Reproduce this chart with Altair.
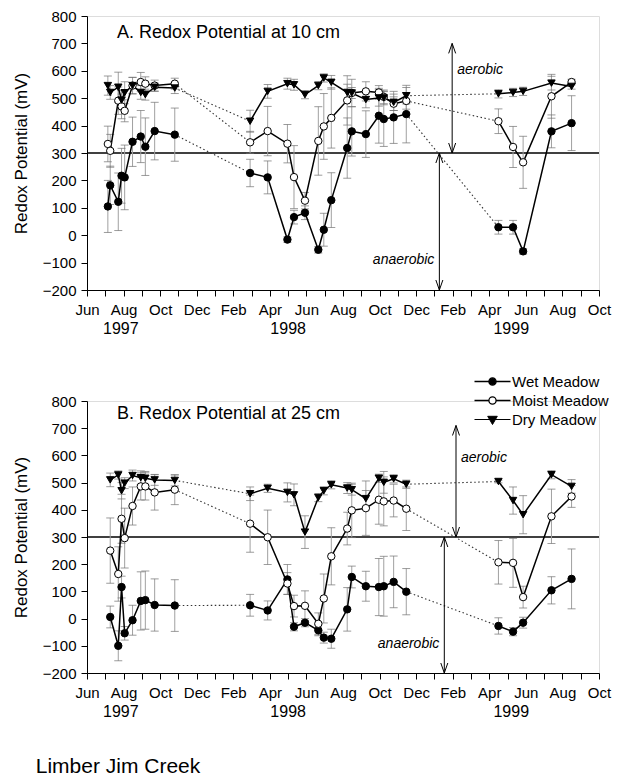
import altair as alt
import pandas as pd

FONT = "Liberation Sans"
SERIES = ["Wet Meadow", "Moist Meadow", "Dry Meadow"]
MONTH_NAMES = ["Jan", "Feb", "Mar", "Apr", "May", "Jun",
               "Jul", "Aug", "Sep", "Oct", "Nov", "Dec"]
X_TICKS = list(range(0, 29))          # months after 1 June 1997
Y_TICKS = list(range(-200, 801, 100))

YEARS = ["1997", "1998", "1999"]
YEAR_POS = [1.85, 11.0, 23.2]

# sampling dates (months after 1 June 1997)
DATES_97 = [1.14, 1.27, 1.71, 1.89, 2.06, 2.49, 2.94, 3.19, 3.70, 4.80]
DATES_97_B = [1.27, 1.71, 1.89, 2.06, 2.49, 2.94, 3.19, 3.70, 4.80]
DATES_98 = [8.92, 9.88, 10.96, 11.32, 11.92, 12.65, 12.95, 13.36,
            14.23, 14.48, 15.25, 15.96, 16.23, 16.77, 17.46]
DATES_99 = [22.5, 23.3, 23.85, 25.4, 26.5]

# ---- Panel A: 10 cm ----
A_WET_97 = [105, 182, 122, 217, 211, 341, 360, 323, 380, 367]
A_WET_97_ERR = [95, 70, 105, 100, 118, 90, 95, 105, 105, 97]
A_MOIST_97 = [333, 308, 491, 470, 454, 546, 559, 553, 546, 553]
A_MOIST_97_ERR = [65, 60, 50, 45, 40, 30, 35, 25, 20, 20]
A_DRY_97 = [546, 521, 540, 493, 520, 546, 521, 513, 540, 537]
A_DRY_97_ERR = [35, 25, 55, 35, 40, 30, 25, 20, 15, 20]

A_WET_98 = [227, 211, -16, 66, 82, -53, 20, 128, 318, 379, 369, 436, 424, 430, 442]
A_WET_98_ERR = [50, 60, 10, 25, 25, 12, 60, 100, 110, 90, 85, 100, 100, 95, 105]
A_MOIST_98 = [339, 380, 334, 212, 126, 344, 397, 428, 492, 519, 525, 521, 505, 480, 490]
A_MOIST_98_ERR = [40, 90, 70, 115, 30, 125, 120, 110, 90, 50, 35, 25, 25, 25, 30]
A_DRY_98 = [416, 525, 553, 549, 513, 546, 574, 558, 521, 519, 495, 501, 501, 485, 509]
A_DRY_98_ERR = [40, 25, 20, 20, 15, 15, 15, 25, 30, 20, 30, 30, 25, 30, 30]

A_WET_99 = [29, 29, -59, 379, 409]
A_WET_99_ERR = [25, 25, 10, 60, 100]
A_MOIST_99 = [416, 322, 266, 507, 559]
A_MOIST_99_ERR = [45, 75, 95, 80, 10]
A_DRY_99 = [516, 521, 525, 555, 543]
A_DRY_99_ERR = [15, 15, 15, 25, 10]

# ---- Panel B: 25 cm ----
B_WET_97 = [6, -100, 116, -54, -6, 65, 68, 50, 48]
B_WET_97_ERR = [40, 55, 40, 25, 55, 107, 107, 96, 95]
B_MOIST_97 = [250, 164, 367, 296, 414, 486, 486, 464, 474]
B_MOIST_97_ERR = [120, 100, 90, 110, 70, 50, 50, 65, 55]
B_DRY_97 = [510, 528, 470, 498, 526, 518, 516, 510, 508]
B_DRY_97_ERR = [25, 15, 30, 20, 20, 25, 25, 20, 20]

B_WET_98 = [49, 30, 144, -30, -15, -43, -70, -74, 34, 153, 119, 116, 119, 135, 99]
B_WET_98_ERR = [40, 35, 55, 15, 15, 20, 20, 35, 80, 40, 55, 105, 110, 95, 85]
B_MOIST_98 = [349, 299, 129, 46, 47, -19, 74, 229, 331, 398, 406, 437, 431, 434, 404]
B_MOIST_98_ERR = [105, 100, 40, 40, 55, 40, 90, 105, 60, 100, 100, 90, 90, 60, 80]
B_DRY_98 = [459, 479, 464, 455, 318, 445, 470, 492, 480, 474, 441, 516, 501, 514, 494]
B_DRY_98_ERR = [25, 15, 35, 40, 60, 15, 15, 15, 20, 20, 30, 15, 40, 15, 15]

B_WET_99 = [-27, -48, -15, 104, 146]
B_WET_99_ERR = [30, 15, 20, 50, 110]
B_MOIST_99 = [207, 205, 79, 376, 449]
B_MOIST_99_ERR = [80, 90, 40, 100, 40]
B_DRY_99 = [504, 434, 382, 529, 486]
B_DRY_99_ERR = [5, 50, 70, 15, 25]

# arrows (month position, top, bottom) and zone labels
A_ARROW_X = [19.97, 19.27]
B_ARROW_X = [20.18, 19.54]
A_ARROW_TOP = [700, 300]
B_ARROW_TOP = [710, 300]
ARROW_BOTTOM = [300, -200]
A_LABEL_Y = [603, -90]
B_LABEL_Y = [590, -95]
ZONE_LABELS = ["aerobic", "anaerobic"]

PANEL_TITLES = ["A. Redox Potential at 10 cm", "B. Redox Potential at 25 cm"]
PANEL_TITLE_X = [1.64, 1.64]
PANEL_TITLE_Y = [720, 735]
FIG_TITLE = "Limber Jim Creek"

W = 512
H_A = 274
H_B = 272

# custom symbol paths (drawn at size 4 -> 1 unit = 1 px)
UP_HEAD = "M -3.5,10 L 0,0 L 3.5,10"
DOWN_HEAD = "M -3.5,-10 L 0,0 L 3.5,-10"
LEG_CIRCLE = ("M -18,0 L -3.6,0 M 3.6,0 L 18,0 "
              "M -3.6,0 A 3.6,3.6 0 1,0 3.6,0 A 3.6,3.6 0 1,0 -3.6,0 Z")
LEG_TRI = "M -18,0 L 18,0 M -4.8,-3.2 L 4.8,-3.2 L 0,5 Z"
LEGEND_X = 398
LEGEND_Y = [-27, -8, 11]


def build_rows(dates, series_data):
    rows = []
    for name, (vals, errs) in zip(SERIES, series_data):
        for season in range(3):
            for d, v, e in zip(dates[season], vals[season], errs[season]):
                rows.append(dict(series=name, season=season, key=f"{name}-{season}",
                                 m=d, v=v, lo=v - e, hi=v + e))
    return pd.DataFrame(rows)


def build_connectors(df):
    out = []
    for name in SERIES:
        s = df[df.series == name]
        for k in range(2):
            a = s[s.season == k].iloc[-1]
            b = s[s.season == k + 1].iloc[0]
            for r in (a, b):
                out.append(dict(series=name, seg=f"{name}-{k}", m=r.m, v=r.v))
    return pd.DataFrame(out)


df_a = build_rows(
    [DATES_97, DATES_98, DATES_99],
    [((A_WET_97, A_WET_98, A_WET_99), (A_WET_97_ERR, A_WET_98_ERR, A_WET_99_ERR)),
     ((A_MOIST_97, A_MOIST_98, A_MOIST_99), (A_MOIST_97_ERR, A_MOIST_98_ERR, A_MOIST_99_ERR)),
     ((A_DRY_97, A_DRY_98, A_DRY_99), (A_DRY_97_ERR, A_DRY_98_ERR, A_DRY_99_ERR))])
df_b = build_rows(
    [DATES_97_B, DATES_98, DATES_99],
    [((B_WET_97, B_WET_98, B_WET_99), (B_WET_97_ERR, B_WET_98_ERR, B_WET_99_ERR)),
     ((B_MOIST_97, B_MOIST_98, B_MOIST_99), (B_MOIST_97_ERR, B_MOIST_98_ERR, B_MOIST_99_ERR)),
     ((B_DRY_97, B_DRY_98, B_DRY_99), (B_DRY_97_ERR, B_DRY_98_ERR, B_DRY_99_ERR))])

month_arr = "[" + ",".join(f"'{m}'" for m in MONTH_NAMES) + "]"
x_axis = alt.Axis(values=X_TICKS, title=None, grid=False, tickSize=6,
                  labelExpr=f"datum.value % 2 == 0 ? {month_arr}[(datum.value + 5) % 12] : ''",
                  labelFontSize=15, labelPadding=6, labelFlush=False, labelOverlap=False,
                  labelColor="black", tickColor="black", domainColor="black",
                  labelFont=FONT)
y_axis = alt.Axis(values=Y_TICKS, title="Redox Potential (mV)", grid=False, tickSize=6,
                  labelFontSize=15, labelPadding=5, labelColor="black",
                  tickColor="black", domainColor="black", labelFont=FONT,
                  titleFont=FONT, titleFontSize=17, titleFontWeight="normal",
                  titleColor="black", titlePadding=12)
x_scale = alt.Scale(domain=[0, 28], nice=False, zero=False)
y_scale = alt.Scale(domain=[-200, 800], nice=False, zero=False)


def X(field="m"):
    return alt.X(f"{field}:Q", scale=x_scale, axis=x_axis)


def Y(field="v"):
    return alt.Y(f"{field}:Q", scale=y_scale, axis=y_axis)


def one_entry_legend(name, symbol, row, fill_color):
    return alt.Legend(title=None, orient="none", legendX=LEGEND_X, legendY=LEGEND_Y[row],
                      values=[name], symbolType=symbol, symbolSize=4,
                      symbolFillColor=fill_color, symbolStrokeColor="black",
                      symbolStrokeWidth=1.3, symbolOpacity=1,
                      labelFontSize=15, labelFont=FONT, labelColor="black",
                      labelOffset=12)


def panel(df, idx, height, arrow_x, arrow_top, label_y, with_legend):
    conn = build_connectors(df)
    hline = alt.Chart(pd.DataFrame({"v": [300]})).mark_rule(
        color="black", strokeWidth=1.3).encode(y=Y())
    err = alt.Chart(df).mark_rule(color="#a0a0a0", strokeWidth=1).encode(
        x=X(), y=Y("lo"), y2="hi:Q")
    cap_lo = alt.Chart(df).mark_tick(orient="horizontal", color="#707070", size=8,
                                     thickness=1).encode(x=X(), y=Y("lo"))
    cap_hi = alt.Chart(df).mark_tick(orient="horizontal", color="#707070", size=8,
                                     thickness=1).encode(x=X(), y=Y("hi"))
    dotted = alt.Chart(conn).mark_line(color="#333333", strokeWidth=1.1,
                                       strokeDash=[1.5, 2.5]).encode(
        x=X(), y=Y(), detail="seg:N")

    line_enc = dict(x=X(), y=Y(), detail="key:N", order="m:Q")
    if with_legend:
        # constant opacity; carries the "Moist Meadow" legend entry
        line_enc["opacity"] = alt.Opacity("series:N", scale=alt.Scale(
            domain=[SERIES[1], SERIES[0], SERIES[2]], range=[1, 1, 1]),
            legend=one_entry_legend(SERIES[1], LEG_CIRCLE, 1, "white"))
    lines = alt.Chart(df).mark_line(color="black", strokeWidth=1.5).encode(**line_enc)

    enc = dict(
        x=X(), y=Y(),
        shape=alt.Shape("series:N", scale=alt.Scale(domain=SERIES,
                        range=["circle", "circle", "triangle-down"]), legend=None),
        size=alt.Size("series:N", scale=alt.Scale(domain=SERIES,
                      range=[55, 55, 75]), legend=None),
        fill=alt.Fill("series:N", scale=alt.Scale(domain=SERIES,
                      range=["black", "white", "black"]), legend=None),
    )
    if with_legend:
        # constant-valued channels, each carrying one entry of the legend
        enc["opacity"] = alt.Opacity("series:N", scale=alt.Scale(
            domain=[SERIES[1], SERIES[2], SERIES[0]], range=[1, 1, 1]),
            legend=one_entry_legend(SERIES[0], LEG_CIRCLE, 0, "black"))
        enc["strokeWidth"] = alt.StrokeWidth("series:N", scale=alt.Scale(
            domain=[SERIES[2], SERIES[0], SERIES[1]], range=[1, 1, 1]),
            legend=one_entry_legend(SERIES[2], LEG_TRI, 2, "black"))
    pts = alt.Chart(df).mark_point(filled=True, stroke="black", color="black",
                                   strokeWidth=1, opacity=1).encode(**enc)

    arrows = pd.DataFrame({"m": arrow_x, "top": arrow_top, "bottom": ARROW_BOTTOM,
                           "label": ZONE_LABELS, "ly": label_y})
    shafts = alt.Chart(arrows).mark_rule(color="black", strokeWidth=1).encode(
        x=X(), y=Y("top"), y2="bottom:Q")
    heads_up = alt.Chart(arrows).mark_point(shape=UP_HEAD, size=4, filled=False,
                                            color="black", strokeWidth=1,
                                            opacity=1).encode(x=X(), y=Y("top"))
    heads_dn = alt.Chart(arrows).mark_point(shape=DOWN_HEAD, size=4, filled=False,
                                            color="black", strokeWidth=1,
                                            opacity=1).encode(x=X(), y=Y("bottom"))
    lab_aer = alt.Chart(arrows.iloc[[0]]).mark_text(
        align="left", dx=5, fontStyle="italic", fontSize=14, font=FONT,
        color="black").encode(x=X(), y=Y("ly"), text="label:N")
    lab_ana = alt.Chart(arrows.iloc[[1]]).mark_text(
        align="right", dx=-5, fontStyle="italic", fontSize=14, font=FONT,
        color="black").encode(x=X(), y=Y("ly"), text="label:N")

    ttl = pd.DataFrame({"m": [PANEL_TITLE_X[idx]], "v": [PANEL_TITLE_Y[idx]],
                        "t": [PANEL_TITLES[idx]]})
    title_txt = alt.Chart(ttl).mark_text(align="left", baseline="alphabetic",
                                         fontSize=18, font=FONT, color="black").encode(
        x=X(), y=Y(), text="t:N")

    years = pd.DataFrame({"m": YEAR_POS, "year": YEARS})
    year_txt = alt.Chart(years).mark_text(fontSize=16, font=FONT, baseline="top",
                                          color="black").encode(
        x=X(), y=alt.value(height + 31), text="year:N")

    layers = [hline, err, cap_lo, cap_hi, dotted, lines, pts,
              shafts, heads_up, heads_dn, lab_aer, lab_ana, title_txt, year_txt]
    ch = alt.layer(*layers).properties(width=W, height=height)
    if with_legend:
        ch = ch.resolve_scale(opacity="independent").resolve_legend(opacity="independent")
    return ch


chart_a = panel(df_a, 0, H_A, A_ARROW_X, A_ARROW_TOP, A_LABEL_Y, False)
chart_b = panel(df_b, 1, H_B, B_ARROW_X, B_ARROW_TOP, B_LABEL_Y, True)

indep = dict(fill="independent", opacity="independent", strokeWidth="independent",
             shape="independent", size="independent")
chart = alt.vconcat(chart_a, chart_b, spacing=35).resolve_scale(**indep).resolve_legend(
    **indep).properties(
    title=alt.TitleParams(FIG_TITLE, orient="bottom", anchor="start", fontSize=21,
                          fontWeight="normal", font=FONT, color="black", dx=24,
                          offset=35),
    padding={"left": 3, "top": 0, "right": 0, "bottom": 2},
).configure_view(stroke=None).configure(font=FONT)

chart.save("out.html", embed_options={"renderer": "svg", "actions": False})
